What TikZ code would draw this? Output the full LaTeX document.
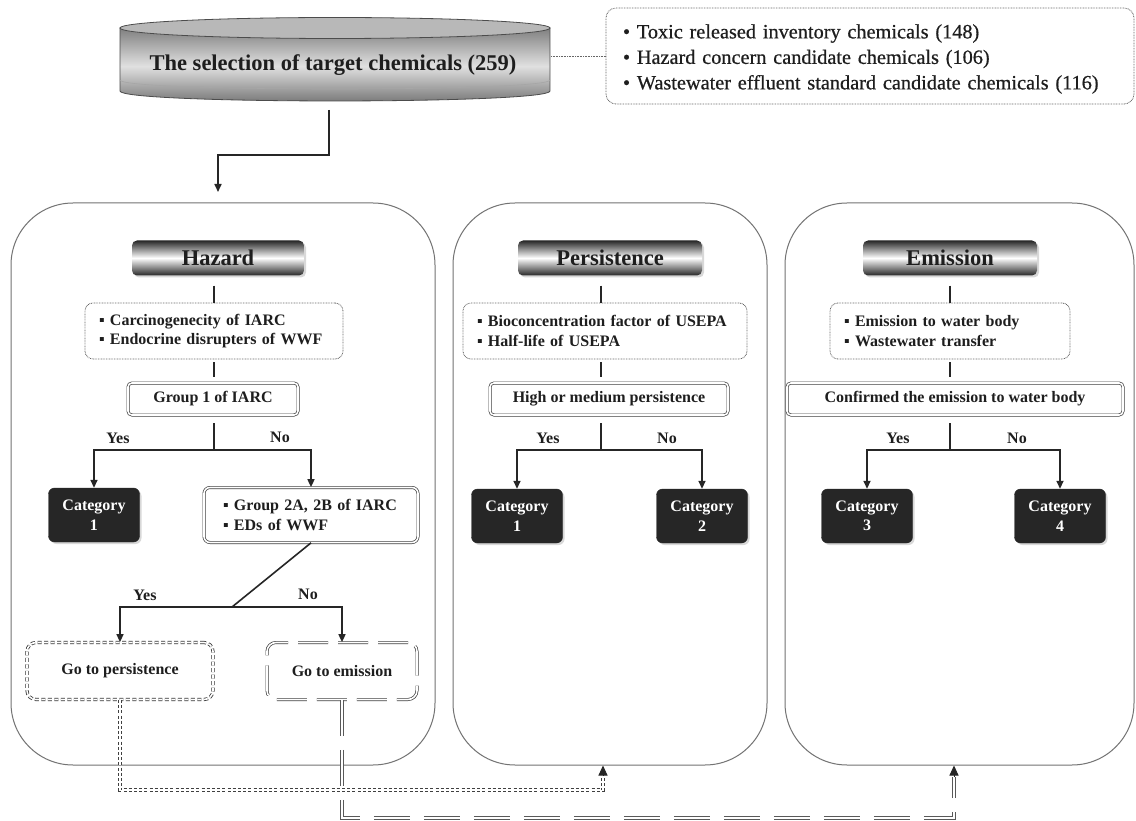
\documentclass[tikz,border=0pt]{standalone}
\usepackage{fontspec}
\setmainfont{Liberation Serif}
\newfontfamily\infofam[FakeBold=0.6]{Liberation Serif}
\usetikzlibrary{arrows.meta,shadows,calc}
\newcommand\pnlfont{\fontsize{16}{19.5}\selectfont\bfseries}
\newcommand\hdrfont{\fontsize{22.5}{26}\selectfont\bfseries}
\newcommand\infofont{\infofam\fontsize{20.3}{25.5}\selectfont}
\definecolor{txt}{HTML}{1E1E1E}
\tikzset{
  panel/.style={draw=black!55, line width=1pt, rounded corners=62pt},
  hdr/.style={rounded corners=5pt, top color=black!85, bottom color=black!85, middle color=white,
    minimum height=35pt, inner sep=0pt, font=\hdrfont, text=txt,
    drop shadow={opacity=0.3, shadow xshift=2pt, shadow yshift=-2pt}},
  dbox/.style={draw=black!60, dash pattern=on 0.8pt off 0.8pt, line width=0.8pt, rounded corners=8pt,
    font=\pnlfont, text=txt, align=left, minimum height=56pt, inner xsep=14pt, inner ysep=2pt},
  qbox/.style={draw=black!75, double, double distance=1.6pt, line width=0.7pt, rounded corners=4pt,
    font=\pnlfont, text=txt, minimum height=32pt, inner sep=2pt},
  catbox/.style={fill=black!85, draw=black!85, rounded corners=6pt, text=white, font=\pnlfont,
    align=center, minimum width=91pt, minimum height=54pt, inner sep=2pt,
    drop shadow={opacity=0.3, shadow xshift=2pt, shadow yshift=-2pt}},
  gpbox/.style={draw=black!80, double, double distance=1.6pt, line width=0.8pt, dash pattern=on 4pt off 2.5pt,
    rounded corners=9pt, font=\pnlfont, text=txt, minimum width=186pt, minimum height=57pt},
  gebox/.style={draw=black!75, double, double distance=1.6pt, line width=0.7pt, dash pattern=on 30pt off 10pt,
    rounded corners=9pt, font=\pnlfont, text=txt, minimum width=150pt, minimum height=57pt},
  yn/.style={font=\pnlfont, text=txt},
  ln/.style={line width=1.6pt, draw=black!85},
  arr/.style={ln, -{Triangle[length=8pt,width=7pt]}},
  tipa/.style={line width=1pt, draw=black!85, -{Triangle[length=10pt,width=9pt]}},
  pcon/.style={draw=black!75, double, double distance=1.8pt, line width=0.8pt, dash pattern=on 3pt off 2.2pt},
  econ/.style={draw=black!65, double, double distance=2pt, line width=0.7pt, dash pattern=on 36pt off 14pt},
}
\begin{document}
\begin{tikzpicture}[x=1pt,y=-1pt]
\useasboundingbox (0,0) rectangle (1136,821);
\fill[white] (0,0) rectangle (1136,821);

% ---------- cylinder ----------
\path[top color=black!50, bottom color=black!55, middle color=black!12, draw=black!70, line width=0.8pt]
  (120,28) -- (120,91) .. controls (120,104.3) and (550,104.3) .. (550,91) -- (550,28) -- cycle;
\draw[black!35, line width=0.6pt] (120,80) .. controls (120,92) and (550,92) .. (550,80);
\path[fill=black!28, draw=black!70, line width=0.8pt] (335,28) ellipse [x radius=215, y radius=10.5];
\node[font=\hdrfont, text=txt] (sel) at (333,65) {The selection of target chemicals (259)};
\coordinate (cylR) at (551,56);
\coordinate (selb) at (329,110);
\coordinate (j0) at (329,155);
\coordinate (aH) at (218,192);

% ---------- info box ----------
\node[draw=black!60, dash pattern=on 0.8pt off 0.8pt, line width=0.8pt, rounded corners=10pt,
      minimum width=528pt, minimum height=96pt] (info) at (870,56) {};
\node[text width=494pt, align=left, font=\infofont, text=txt, inner sep=0pt] (infot) at (870,59)
  {\textbullet\ Toxic released inventory chemicals (148)\\
   \textbullet\ Hazard concern candidate chemicals (106)\\
   \textbullet\ Wastewater effluent standard candidate chemicals (116)};
\draw[black!60, dash pattern=on 0.8pt off 0.8pt, line width=0.8pt] (cylR) -- (info.west);
\draw[arr] (selb) -- (j0) -| (aH);

% ---------- panels ----------
\node[panel, minimum width=424pt, minimum height=562pt] (panH) at (223,484) {};
\node[panel, minimum width=314pt, minimum height=562pt] (panP) at (610,484) {};
\node[panel, minimum width=349pt, minimum height=562pt] (panE) at (959.5,484) {};

% ---------- Hazard ----------
\node[hdr, minimum width=172pt] (hdrH) at (218,258) {Hazard};
\node[dbox, text width=230pt] (dbH) at (214,331)
  {▪\ Carcinogenecity of IARC\\ ▪\ Endocrine disrupters of WWF};
\node[qbox, minimum width=170pt] (g1) at (213,399) {Group 1 of IARC};
\node[catbox] (c1) at (94,515) {Category\\1};
\node[qbox, minimum width=214pt, minimum height=55pt, rounded corners=6pt, align=left,
      text width=176pt, inner xsep=19pt] (g2) at (311,515)
  {▪\ Group 2A, 2B of IARC\\ ▪\ EDs of WWF};
\node[gpbox] (gp) at (120,671) {Go to persistence};
\node[gebox] (ge) at (342,671) {Go to emission};

\coordinate (hl) at (214,0);
\coordinate (jH) at (214,450);
\coordinate (j2) at (232,607);
\draw[ln, shorten <=10pt] (hdrH.south -| hl) -- (dbH.north -| hl);
\draw[ln, shorten <=3pt, shorten >=6pt] (dbH.south -| hl) -- (g1.north -| hl);
\draw[ln, shorten <=8pt] (g1.south -| hl) -- (jH);
\draw[arr] (jH) -| (c1.north);
\draw[arr] (jH) -| (g2.north);
\draw[ln] (g2.south) -- (j2);
\draw[arr] (j2) -| (gp.north);
\draw[arr] (j2) -| (ge.north);
\node[yn] (yH1) at (118,438) {Yes};
\node[yn] (nH1) at (280,437) {No};
\node[yn] (yH2) at (145,595) {Yes};
\node[yn] (nH2) at (308,594) {No};

% ---------- Persistence ----------
\node[hdr, minimum width=184pt] (hdrP) at (610,258) {Persistence};
\node[dbox, text width=256pt] (dbP) at (605,331)
  {▪\ Bioconcentration factor of USEPA\\ ▪\ Half-life of USEPA};
\node[qbox, minimum width=238pt] (hm) at (609,399) {High or medium persistence};
\node[catbox] (c1P) at (517,516) {Category\\1};
\node[catbox] (c2P) at (702,516) {Category\\2};
\coordinate (pl) at (601,0);
\coordinate (jP) at (601,450);
\draw[ln, shorten <=10pt] (hdrP.south -| pl) -- (dbP.north -| pl);
\draw[ln, shorten <=3pt, shorten >=6pt] (dbP.south -| pl) -- (hm.north -| pl);
\draw[ln, shorten <=8pt] (hm.south -| pl) -- (jP);
\draw[arr] (jP) -| (c1P.north);
\draw[arr] (jP) -| (c2P.north);
\node[yn] (yP) at (548,438) {Yes};
\node[yn] (nP) at (667,438) {No};

% ---------- Emission ----------
\node[hdr, minimum width=174pt] (hdrE) at (950,258) {Emission};
\node[dbox, text width=212pt] (dbE) at (950,331)
  {▪\ Emission to water body\\ ▪\ Wastewater transfer};
\node[qbox, minimum width=336pt] (cf) at (955,399) {Confirmed the emission to water body};
\node[catbox] (c3) at (867,516) {Category\\3};
\node[catbox] (c4) at (1060,516) {Category\\4};
\coordinate (el) at (950,0);
\coordinate (jE) at (950,450);
\draw[ln, shorten <=10pt] (hdrE.south -| el) -- (dbE.north -| el);
\draw[ln, shorten <=3pt, shorten >=6pt] (dbE.south -| el) -- (cf.north -| el);
\draw[ln, shorten <=8pt] (cf.south -| el) -- (jE);
\draw[arr] (jE) -| (c3.north);
\draw[arr] (jE) -| (c4.north);
\node[yn] (yE) at (898,438) {Yes};
\node[yn] (nE) at (1017,438) {No};

% ---------- bottom connectors ----------
\coordinate (pA) at (603,790);
\coordinate (pB) at (603,776);
\draw[pcon] (gp.south) |- (pA) -- (pB);
\draw[tipa] (pB) -- (pB |- panP.south);
\coordinate (eA) at (954,818);
\coordinate (eB) at (954,777);
\draw[econ] (ge.south) |- (eA) -- (eB);
\draw[tipa] (eB) -- (eB |- panE.south);
\end{tikzpicture}
\end{document}
